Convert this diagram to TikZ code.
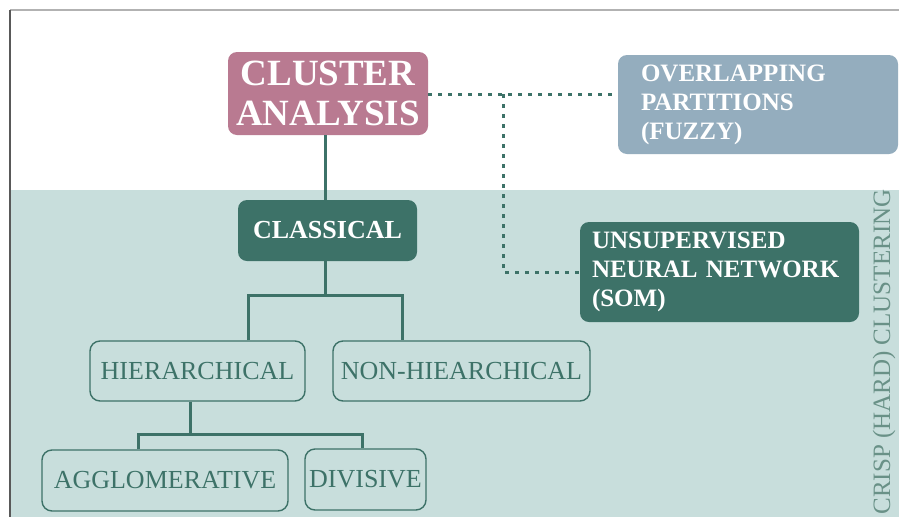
\documentclass[tikz,border=0pt]{standalone}
\usepackage{fontspec}
\setmainfont{Liberation Serif}
\definecolor{mauve}{RGB}{185,122,145}
\definecolor{deepteal}{RGB}{61,114,104}
\definecolor{slateblue}{RGB}{148,173,190}
\definecolor{paleteal}{RGB}{200,222,220}
\definecolor{sidetext}{RGB}{105,145,135}
\begin{document}
\begin{tikzpicture}[x=1pt,y=-1pt,
  solidbox/.style={rounded corners=9pt, inner sep=0pt, text=white, font=\bfseries},
  outlinebox/.style={draw=deepteal, line width=1.4pt, rounded corners=10pt, inner sep=0pt,
    text=deepteal, font=\fontsize{26}{28}\selectfont},
  treeline/.style={draw=deepteal, line width=3pt},
  dotline/.style={draw=deepteal, line width=3pt, dash pattern=on 4pt off 6pt}]
\useasboundingbox (0,0) rectangle (899,517);
% page frame and the shaded crisp-clustering band
\fill[white] (0,0) rectangle (899,517);
\fill[paleteal] (11,190) rectangle (899,517);
\draw[gray!60, line width=2pt] (10,10) -- (899,10);
\draw[black!65, line width=1.5pt] (10,10) -- (10,517);

% nodes
\node[solidbox, fill=mauve, minimum width=200pt, minimum height=83pt, align=center,
  font=\bfseries\fontsize{37}{40}\selectfont] (ca) at (328,93.5) {CLUSTER\\ANALYSIS};
\node[solidbox, fill=deepteal, minimum width=179pt, minimum height=61pt,
  font=\bfseries\fontsize{26}{28}\selectfont] (cl) at (327.5,230.5) {CLASSICAL};
\node[outlinebox, minimum width=215pt, minimum height=60pt] (hi) at (197.5,371) {HIERARCHICAL};
\node[outlinebox, minimum width=257pt, minimum height=60pt] (nh) at (461.5,371) {NON-HIEARCHICAL};
\node[outlinebox, minimum width=246pt, minimum height=61pt] (ag) at (165,480.5) {AGGLOMERATIVE};
\node[outlinebox, minimum width=121pt, minimum height=61pt] (dv) at (365.5,479.5) {DIVISIVE};
\node[solidbox, fill=slateblue, minimum width=280pt, minimum height=99pt,
  align=left, text width=234pt, inner xsep=0pt,
  font=\bfseries\fontsize{25}{29}\selectfont] (ov) at (758,104.5)
  {OVERLAPPING\\PARTITIONS\\(FUZZY)};
\node[solidbox, fill=deepteal, minimum width=279pt, minimum height=100pt,
  align=left, text width=255pt, inner xsep=0pt,
  font=\bfseries\fontsize{25}{29}\selectfont] (un) at (719.5,272)
  {UNSUPERVISED\\NEURAL NETWORK\\(SOM)};
\node[rotate=90, text=sidetext, font=\fontsize{25}{27}\selectfont, inner sep=0pt]
  (crisp) at (884,352) {CRISP (HARD) CLUSTERING};

% tree connectors
\coordinate (b1) at (248,295);
\coordinate (b2) at (402,295);
\coordinate (b0) at (190,434);
\coordinate (b3) at (138,434);
\coordinate (b4) at (362,434);
\draw[treeline] (ca.south -| 325,0) -- (cl.north -| 325,0);
\draw[treeline] (cl.south -| 325,0) -- (b1 -| 325,0);
\draw[treeline, line join=miter] (b1 |- hi.north) -- (b1) -- (b2) -- (b2 |- nh.north);
\draw[treeline] (b0 |- hi.south) -- (b0);
\draw[treeline, line join=miter] (b3 |- ag.north) -- (b3) -- (b4) -- (b4 |- dv.north);

% dashed links to the other families
\coordinate (d0) at (503,94);
\draw[dotline] (ca.east |- d0) -- (ov.west |- d0);
\draw[dotline] (d0) |- (un.west);
\end{tikzpicture}
\end{document}
